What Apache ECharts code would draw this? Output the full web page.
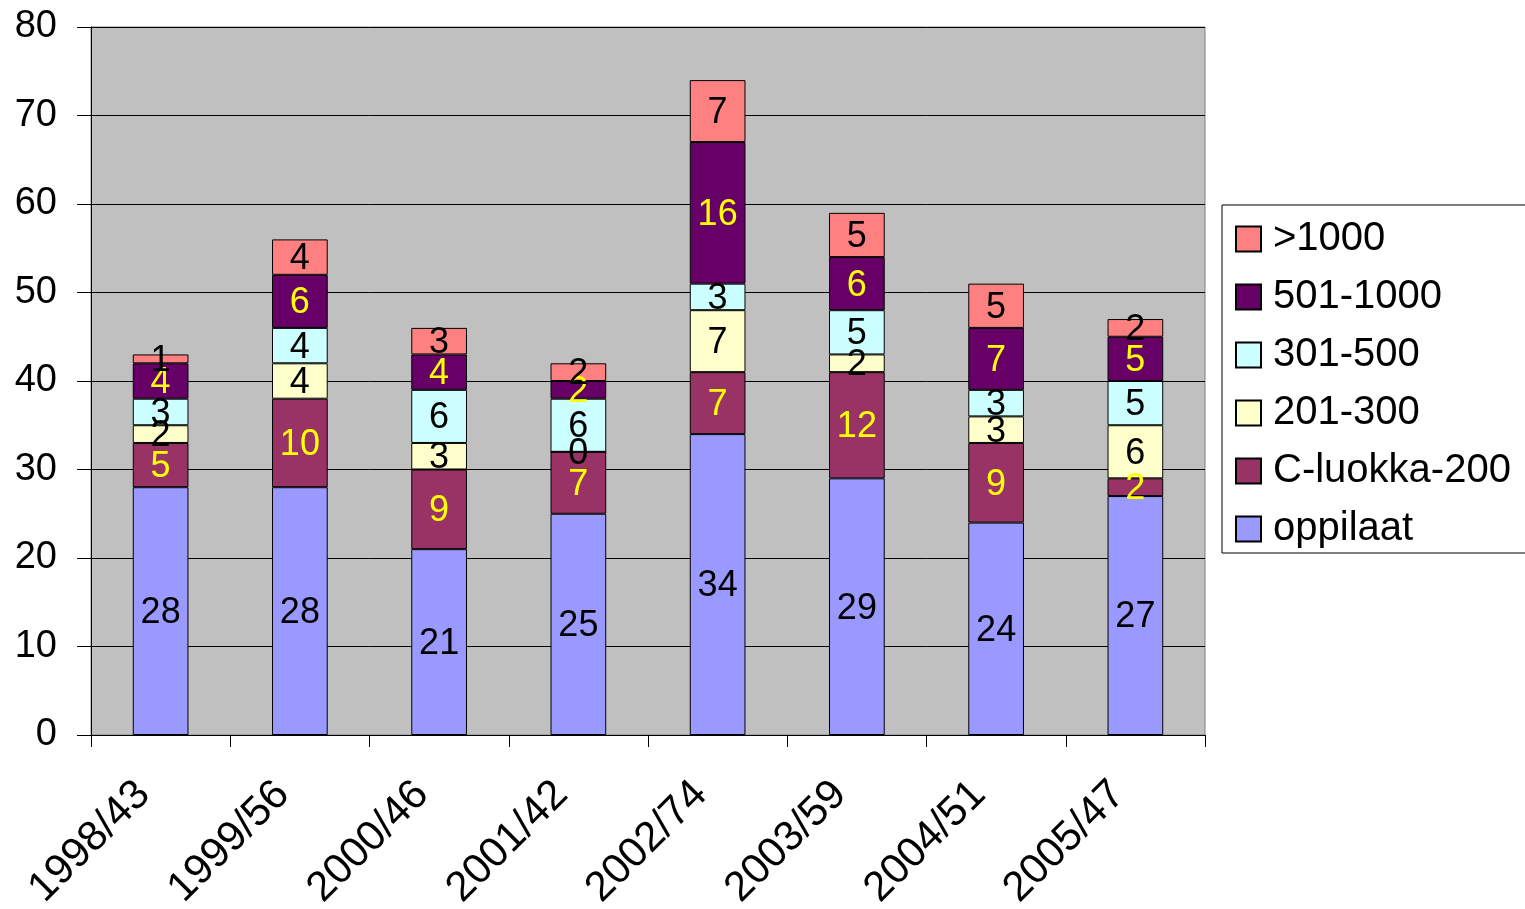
<!DOCTYPE html>
<html>
<head>
<meta charset="utf-8">
<script src="https://cdn.jsdelivr.net/npm/echarts@6/dist/echarts.min.js"></script>
<style>html,body{margin:0;padding:0;background:#fff}#c{width:1525px;height:909px}</style>
</head>
<body>
<div id="c"></div>
<script>
const categories = ['1998/43','1999/56','2000/46','2001/42','2002/74','2003/59','2004/51','2005/47'];
const oppilaat   = [28, 28, 21, 25, 34, 29, 24, 27];
const cLuokka    = [5, 10, 9, 7, 7, 12, 9, 2];
const s201_300   = [2, 4, 3, 0, 7, 2, 3, 6];
const s301_500   = [3, 4, 6, 6, 3, 5, 3, 5];
const s501_1000  = [4, 6, 4, 2, 16, 6, 7, 5];
const s1000plus  = [1, 4, 3, 2, 7, 5, 5, 2];
const yTicks = [0, 10, 20, 30, 40, 50, 60, 70, 80];

const FONT = '"Liberation Sans", Arial, sans-serif';
const seriesDefs = [
  {name: 'oppilaat', data: oppilaat, color: '#9999FF', label: '#000000'},
  {name: 'C-luokka-200', data: cLuokka, color: '#993366', label: '#FFFF00'},
  {name: '201-300', data: s201_300, color: '#FFFFCC', label: '#000000'},
  {name: '301-500', data: s301_500, color: '#CCFFFF', label: '#000000'},
  {name: '501-1000', data: s501_1000, color: '#660066', label: '#FFFF00'},
  {name: '>1000', data: s1000plus, color: '#FF8080', label: '#000000'}
];

const chart = echarts.init(document.getElementById('c'), null, {renderer: 'canvas'});
chart.setOption({
  animation: false,
  backgroundColor: '#ffffff',
  textStyle: {fontFamily: FONT},
  grid: {
    left: 91, top: 27, right: 320, bottom: 174,
    containLabel: false, outerBoundsMode: 'none',
    show: true, backgroundColor: '#C0C0C0', borderColor: '#808080', borderWidth: 1
  },
  legend: {
    orient: 'vertical',
    left: 1222, top: 205,
    padding: [14, 30, 4, 13],
    itemGap: 18,
    itemWidth: 25, itemHeight: 25,
    icon: 'rect',
    borderColor: '#000', borderWidth: 1,
    backgroundColor: '#fff',
    data: seriesDefs.map(s => s.name).reverse(),
    textStyle: {fontFamily: FONT, fontSize: 40, color: '#000', lineHeight: 40, padding: [0, 0, 0, 7]}
  },
  xAxis: {
    type: 'category',
    data: categories,
    axisLine: {lineStyle: {color: '#000', width: 1}},
    axisTick: {show: true, length: 12, alignWithLabel: false, lineStyle: {color: '#000'}},
    axisLabel: {rotate: 45, fontSize: 42, color: '#000', fontFamily: FONT, margin: 36, interval: 0,
      padding: [0, 24, 0, 0]}
  },
  yAxis: {
    type: 'value',
    min: 0, max: 80, interval: 10,
    axisLine: {show: true, lineStyle: {color: '#000', width: 1}},
    axisTick: {show: true, length: 14, lineStyle: {color: '#000'}},
    splitLine: {show: true, lineStyle: {color: '#000', width: 1}},
    axisLabel: {fontSize: 38, color: '#000', fontFamily: FONT, margin: 34,
      formatter: v => yTicks.includes(v) ? String(v) : ''}
  },
  series: seriesDefs.map(s => ({
    name: s.name,
    type: 'bar',
    stack: 'total',
    barWidth: '40%',
    data: s.data,
    itemStyle: {color: s.color, borderColor: '#000', borderWidth: 1},
    label: {show: true, position: 'inside', color: s.label, fontSize: 36, fontFamily: FONT,
      textBorderWidth: 0, offset: [0, 2]}
  }))
});
</script>
</body>
</html>
